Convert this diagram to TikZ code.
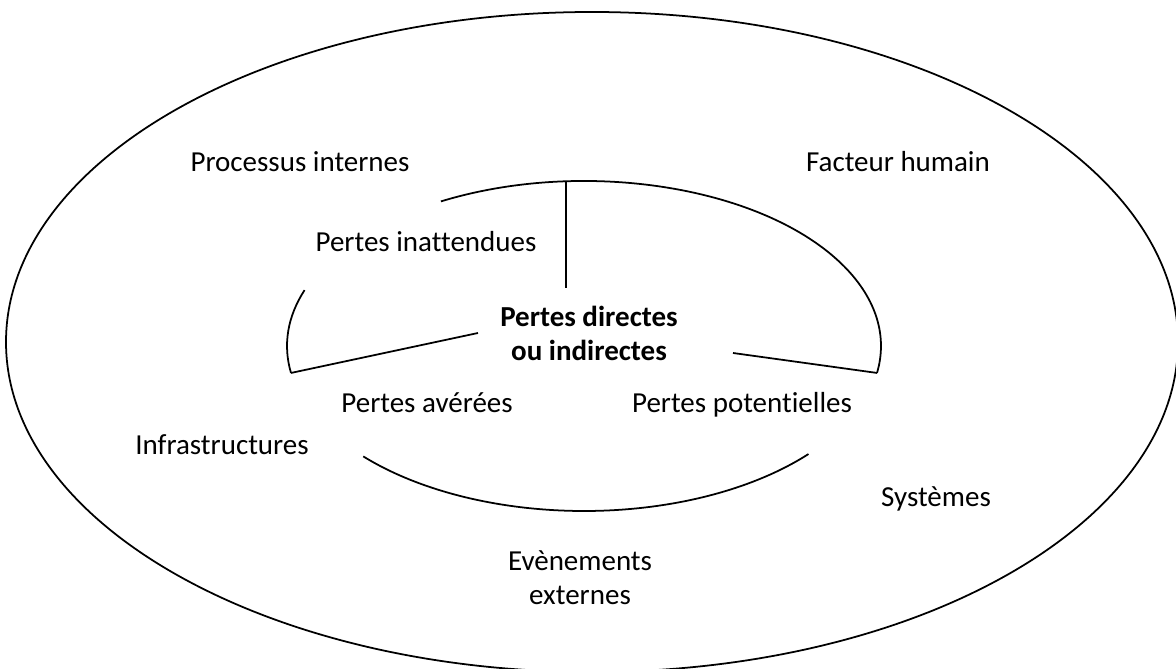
\documentclass[tikz,border=0pt]{standalone}
\usepackage{fontspec}
\setmainfont{Carlito}[Ligatures=NoCommon]
\tikzset{
  lbl/.style={inner sep=0pt, font=\fontsize{16.5pt}{19.3pt}\selectfont, align=center},
  ln/.style={line width=1pt, black},
}
\begin{document}
\begin{tikzpicture}[x=0.02cm, y=0.02cm]
\useasboundingbox (0,0) rectangle (1176,669);
% outer ellipse
\coordinate (O) at (592,327);
\draw[ln] (O) ellipse [x radius=586, y radius=330];
% inner ellipse arcs
\coordinate (C) at (584,323);
\path (C) ++(118.8:297 and 165) coordinate (tS);
\path (C) ++(-9.4:297 and 165) coordinate (rE);
\path (C) ++(160.2:297 and 165) coordinate (lS);
\path (C) ++(189.4:297 and 165) coordinate (lE);
\path (C) ++(222:297 and 165) coordinate (bS);
\path (C) ++(93.5:297 and 165) coordinate (vT);
\draw[ln] (tS) arc[start angle=118.8, end angle=-9.4, x radius=297, y radius=165];
\draw[ln] (lS) arc[start angle=160.2, end angle=189.4, x radius=297, y radius=165];
\draw[ln] (bS) arc[start angle=222, end angle=319.1, x radius=297, y radius=165];
% radial lines
\coordinate (vB) at (566,381);
\coordinate (lI) at (478,336);
\coordinate (rI) at (733,316);
\draw[ln] (vT) -- (vB);
\draw[ln] (lE) -- (lI);
\draw[ln] (rE) -- (rI);
% labels
\node[lbl, anchor=base] (proc) at (300,497) {Processus internes};
\node[lbl, anchor=base] (fact) at (898,497) {Facteur humain};
\node[lbl, anchor=base] (inat) at (426,417) {Pertes inattendues};
\node[lbl, anchor=center, font=\fontsize{16.5pt}{19.3pt}\selectfont\bfseries] (centre) at (589,336) {Pertes directes\\ou indirectes};
\node[lbl, anchor=base] (infra) at (222,214) {Infrastructures};
\node[lbl, anchor=base] (aver) at (427,256) {Pertes avérées};
\node[lbl, anchor=base] (pot) at (742,256) {Pertes potentielles};
\node[lbl, anchor=base] (sys) at (936,162) {Systèmes};
\node[lbl, anchor=center] (evt) at (580,91) {Evènements\\externes};
\end{tikzpicture}
\end{document}
